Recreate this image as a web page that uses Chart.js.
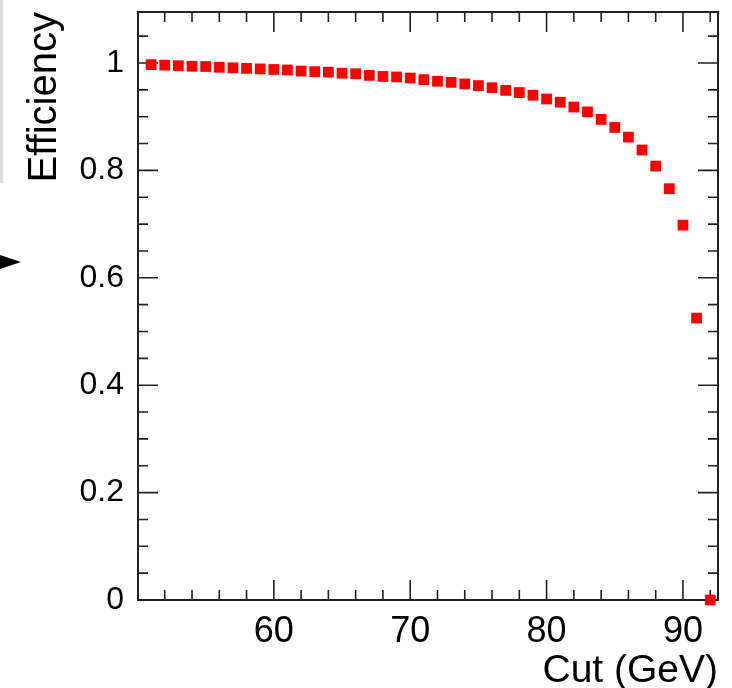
<!DOCTYPE html>
<html>
<head>
<meta charset="utf-8">
<script src="https://cdn.jsdelivr.net/npm/chart.js@4"></script>
<style>
html, body { margin: 0; padding: 0; background: #fff; }
#wrap { position: relative; width: 732px; height: 688px; }
#side { position: absolute; left: 0; top: 0; width: 3px; height: 183px; background: #ddd; }
#arrow { position: absolute; left: 0; top: 255px; width: 0; height: 0;
  border-top: 7px solid transparent; border-bottom: 7px solid transparent; border-left: 21px solid #000; }
</style>
</head>
<body>
<div id="wrap">
  <canvas id="effChart" width="732" height="688"></canvas>
  <div id="side"></div>
  <div id="arrow"></div>
</div>
<script>
const cuts = [51, 52, 53, 54, 55, 56, 57, 58, 59, 60,
  61, 62, 63, 64, 65, 66, 67, 68, 69, 70,
  71, 72, 73, 74, 75, 76, 77, 78, 79, 80,
  81, 82, 83, 84, 85, 86, 87, 88, 89, 90, 91, 92];
const efficiency = [0.997, 0.996, 0.995, 0.994, 0.9935, 0.992, 0.991, 0.990, 0.989, 0.988,
  0.987, 0.985, 0.984, 0.983, 0.981, 0.980, 0.977, 0.975, 0.974, 0.972,
  0.969, 0.966, 0.964, 0.961, 0.958, 0.954, 0.949, 0.945, 0.940, 0.933,
  0.927, 0.918, 0.909, 0.895, 0.880, 0.862, 0.838, 0.808, 0.766, 0.698, 0.525, 0.0];
const xTicks = [60, 70, 80, 90];
const yTicks = [0, 0.2, 0.4, 0.6, 0.8, 1];
const yTickLabels = ['0', '0.2', '0.4', '0.6', '0.8', '1'];

Chart.defaults.color = '#000';
Chart.defaults.font.family = '"Liberation Sans", Arial, sans-serif';

// ROOT style: frame plus inward ticks on all four sides
const frameTicks = {
  id: 'frameTicks',
  beforeDatasetsDraw(chart) {
    const { ctx, chartArea: a, scales: { x, y } } = chart;
    ctx.save();
    ctx.strokeStyle = '#222';
    ctx.lineWidth = 1.6;
    ctx.beginPath();
    for (let v = Math.ceil(x.min / 2) * 2; v < x.max; v += 2) {
      if (v <= x.min) continue;
      const px = x.getPixelForValue(v);
      const len = v % 10 === 0 ? 20 : 10;
      ctx.moveTo(px, a.bottom); ctx.lineTo(px, a.bottom - len);
      ctx.moveTo(px, a.top); ctx.lineTo(px, a.top + len);
    }
    for (let i = 1; i * 0.05 < y.max; i++) {
      const py = y.getPixelForValue(i * 0.05);
      const len = i % 4 === 0 ? 20 : 10;
      ctx.moveTo(a.left, py); ctx.lineTo(a.left + len, py);
      ctx.moveTo(a.right, py); ctx.lineTo(a.right - len, py);
    }
    ctx.stroke();
    ctx.lineWidth = 2;
    ctx.strokeRect(a.left, a.top, a.right - a.left, a.bottom - a.top);
    ctx.restore();
  }
};

new Chart(document.getElementById('effChart'), {
  type: 'scatter',
  data: {
    datasets: [{
      data: cuts.map((c, i) => ({ x: c, y: efficiency[i] })),
      pointStyle: 'rect',
      pointRadius: 7.6,
      backgroundColor: '#ff0000',
      borderWidth: 0,
      clip: false
    }]
  },
  options: {
    responsive: false,
    animation: false,
    devicePixelRatio: 1,
    layout: { padding: { top: 12, right: 14, left: 0, bottom: 0 } },
    plugins: { legend: { display: false }, tooltip: { enabled: false } },
    scales: {
      x: {
        type: 'linear',
        min: 50.04,
        max: 92.57,
        grid: { display: false },
        border: { display: false },
        afterBuildTicks: s => { s.ticks = xTicks.map(v => ({ value: v })); },
        afterFit: s => { s.height = 88; s.paddingLeft = 0; s.paddingRight = 0; },
        ticks: { padding: 2, font: { size: 36 }, maxRotation: 0, autoSkip: false },
        title: { display: true, text: 'Cut (GeV)', align: 'end', font: { size: 39, lineHeight: 1 }, padding: { top: 0, bottom: -3 } }
      },
      y: {
        type: 'linear',
        min: 0,
        max: 1.095,
        grid: { display: false },
        border: { display: false },
        afterBuildTicks: s => { s.ticks = yTicks.map(v => ({ value: v })); },
        afterFit: s => { s.width = 138; s.paddingTop = 0; s.paddingBottom = 0; },
        ticks: {
          padding: 6,
          font: { size: 32 },
          autoSkip: false,
          callback: v => yTickLabels[yTicks.indexOf(v)]
        },
        title: { display: true, text: 'Efficiency', align: 'end', font: { size: 40 }, padding: { top: 21, bottom: 0 } }
      }
    }
  },
  plugins: [frameTicks]
});
</script>
</body>
</html>
